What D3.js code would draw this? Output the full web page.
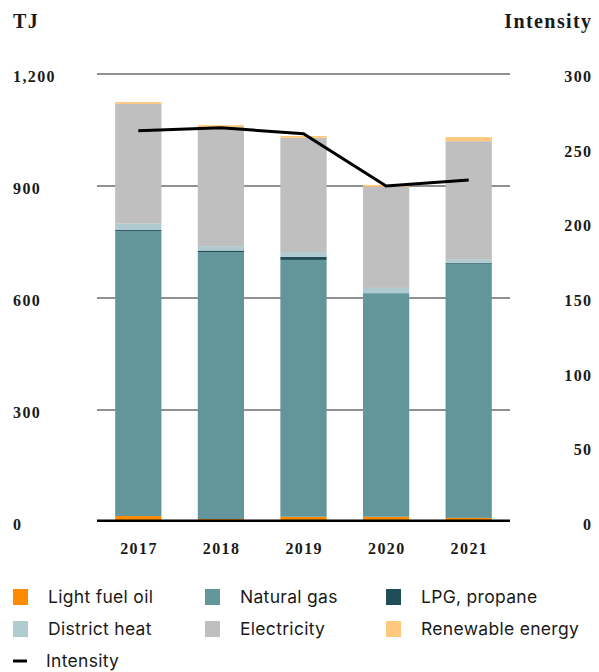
<!DOCTYPE html>
<html>
<head>
<meta charset="utf-8">
<script src="https://cdn.jsdelivr.net/npm/d3@7"></script>
<style>
  body { margin: 0; background: #fff; }
  .serif { font-family: "Liberation Serif", "DejaVu Serif", serif; font-weight: bold; fill: #1a1a1a; letter-spacing: 1.4px; }
  .legend text { font-family: Inter, "Noto Sans", sans-serif; font-size: 17.5px; fill: #1a1a1a; letter-spacing: 0.3px; }
</style>
</head>
<body>
<div id="chart"></div>
<script>
// data
var years = ["2017", "2018", "2019", "2020", "2021"];
var lightFuelOil = [16, 8, 14, 14, 11];
var naturalGas = [763, 715, 688, 599, 681];
var lpg = [3, 4, 8, 0, 2];
var districtHeat = [18, 12, 13, 14, 10];
var electricity = [320, 319, 306, 271, 316];
var renewable = [5, 5, 5, 5, 11];
var intensity = [262, 264, 260, 225, 229];

var leftTicks = [0, 300, 600, 900, 1200];
var rightTicks = [0, 50, 100, 150, 200, 250, 300];

var seriesNames = ["Light fuel oil", "Natural gas", "LPG, propane", "District heat", "Electricity", "Renewable energy"];
var seriesValues = [lightFuelOil, naturalGas, lpg, districtHeat, electricity, renewable];
var colors = ["#ff8c00", "#62969b", "#1f4e58", "#b0cbcf", "#bfbfbf", "#ffc87c"];

var svgWidth = 599, svgHeight = 672;
var plotLeft = 97, plotRight = 510;

var svg = d3.select("#chart").append("svg")
  .attr("width", svgWidth)
  .attr("height", svgHeight);

var x = d3.scaleBand().domain(years).range([plotLeft, plotRight]).paddingInner(0.44).paddingOuter(0.22);
var y = d3.scaleLinear().domain([0, 1200]).range([522, 74]);
var y2 = d3.scaleLinear().domain([0, 300]).range([522, 74]);

// build stacked table
var table = years.map(function(yr, i) {
  var row = { year: yr };
  seriesNames.forEach(function(n, j) { row[n] = seriesValues[j][i]; });
  return row;
});
var stacked = d3.stack().keys(seriesNames)(table);

// gridlines
svg.append("g").selectAll("line")
  .data(leftTicks.filter(function(d) { return d > 0; }))
  .enter().append("line")
  .attr("x1", plotLeft).attr("x2", plotRight)
  .attr("y1", function(d) { return y(d); })
  .attr("y2", function(d) { return y(d); })
  .attr("stroke", "#222")
  .attr("stroke-width", 1.2);

// bars
svg.append("g").selectAll("g")
  .data(stacked)
  .enter().append("g")
  .attr("fill", function(d, i) { return colors[i]; })
  .selectAll("rect")
  .data(function(d) { return d; })
  .enter().append("rect")
  .attr("x", function(d) { return x(d.data.year); })
  .attr("width", x.bandwidth())
  .attr("y", function(d) { return y(d[1]); })
  .attr("height", function(d) { return y(d[0]) - y(d[1]); });

// baseline
svg.append("line")
  .attr("x1", plotLeft).attr("x2", plotRight)
  .attr("y1", y(0) - 1.3).attr("y2", y(0) - 1.3)
  .attr("stroke", "#000")
  .attr("stroke-width", 2.5);

// intensity line
var line = d3.line()
  .x(function(d, i) { return x(years[i]) + x.bandwidth() / 2; })
  .y(function(d) { return y2(d); });
svg.append("path")
  .datum(intensity)
  .attr("d", line)
  .attr("fill", "none")
  .attr("stroke", "#000")
  .attr("stroke-width", 3);

// left axis labels
svg.append("g").selectAll("text")
  .data(leftTicks)
  .enter().append("text")
  .attr("class", "serif")
  .attr("x", 13)
  .attr("y", function(d) { return y(d) + 8; })
  .attr("font-size", "16px")
  .text(function(d) { return d3.format(",")(d); });

// right axis labels
svg.append("g").selectAll("text")
  .data(rightTicks)
  .enter().append("text")
  .attr("class", "serif")
  .attr("x", 592.5)
  .attr("y", function(d) { return y2(d) + 8; })
  .attr("text-anchor", "end")
  .attr("font-size", "16px")
  .text(function(d) { return d; });

// year labels
svg.append("g").selectAll("text")
  .data(years)
  .enter().append("text")
  .attr("class", "serif")
  .attr("x", function(d) { return x(d) + x.bandwidth() / 2 + 0.7; })
  .attr("y", 554)
  .attr("text-anchor", "middle")
  .attr("font-size", "16px")
  .text(function(d) { return d; });

// axis titles
svg.append("text").attr("class", "serif")
  .attr("x", 13).attr("y", 28)
  .attr("font-size", "20px")
  .text("TJ");
svg.append("text").attr("class", "serif")
  .attr("x", 592.5).attr("y", 28)
  .attr("text-anchor", "end")
  .attr("font-size", "20px")
  .text("Intensity");

// legend
var legend = svg.append("g").attr("class", "legend");
var colX = [13, 205, 386];
seriesNames.forEach(function(n, i) {
  var cx = colX[i % 3];
  var cy = 597 + Math.floor(i / 3) * 32;
  legend.append("rect")
    .attr("x", cx).attr("y", cy - 8)
    .attr("width", 15).attr("height", 16)
    .attr("fill", colors[i]);
  legend.append("text")
    .attr("x", cx + 35).attr("y", cy + 6)
    .text(n);
});
legend.append("line")
  .attr("x1", 13).attr("x2", 27)
  .attr("y1", 661).attr("y2", 661)
  .attr("stroke", "#000").attr("stroke-width", 3);
legend.append("text")
  .attr("x", 46).attr("y", 667)
  .text("Intensity");
</script>
</body>
</html>
